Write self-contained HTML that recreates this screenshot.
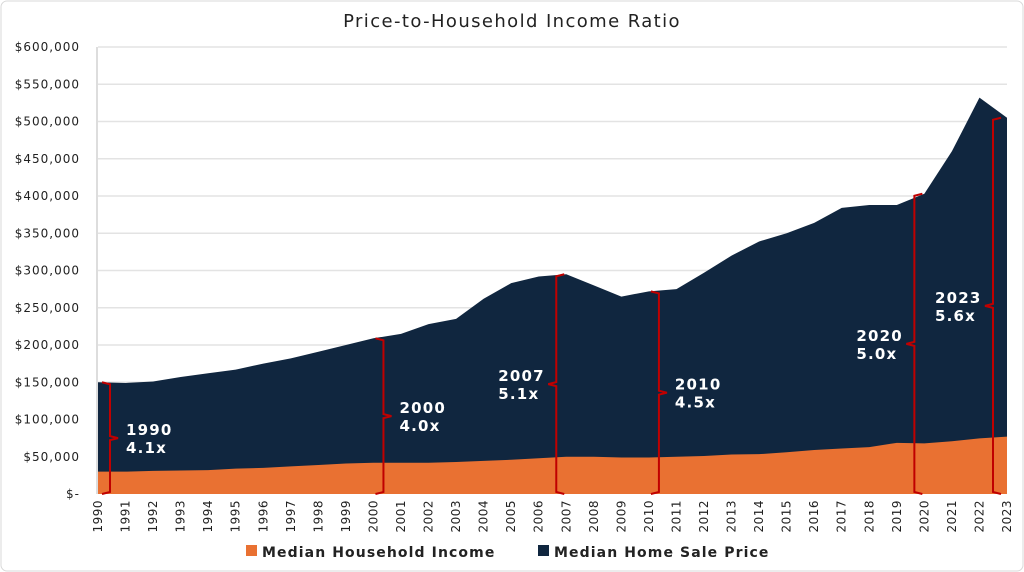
<!DOCTYPE html>
<html><head><meta charset="utf-8"><style>
body{margin:0;background:#fff;}
svg{display:block;font-family:"DejaVu Sans","Liberation Sans",sans-serif;}
</style></head><body>
<svg id="chart" width="1024" height="572" viewBox="0 0 1024 572">
<rect x="1" y="1" width="1022" height="570" rx="6" fill="#fff" stroke="#d9d9d9"/>
<text x="512" y="27" text-anchor="middle" font-size="18" letter-spacing="1.4" fill="#222">Price-to-Household Income Ratio</text>
<g id="grid"></g><g id="areas"></g><g id="yaxis"></g><g id="xaxis"></g><g id="brackets"></g>
<g>
<rect x="246" y="545" width="11" height="11" fill="#e97132"/>
<text x="262" y="557" font-size="14" font-weight="bold" letter-spacing="1.1" fill="#222">Median Household Income</text>
<rect x="538" y="545" width="11" height="11" fill="#10263f"/>
<text x="554" y="557" font-size="14" font-weight="bold" letter-spacing="1.1" fill="#222">Median Home Sale Price</text>
</g>
</svg>
<script>
const years=[1990,1991,1992,1993,1994,1995,1996,1997,1998,1999,2000,2001,2002,2003,2004,2005,2006,2007,2008,2009,2010,2011,2012,2013,2014,2015,2016,2017,2018,2019,2020,2021,2022,2023];
const homePrice=[150000,149000,151000,157000,162000,167000,175000,182000,191000,200000,209000,215000,228000,235000,262000,283000,292000,295000,280000,265000,272000,275000,297000,320000,339000,350000,364000,384000,388000,388000,403000,460000,532000,505000];
const income=[30000,30000,31000,31500,32000,34000,35000,37000,39000,41000,42000,42000,42000,43000,44500,46000,48000,50000,50000,49000,49000,50000,51000,53000,53500,56000,59000,61000,63000,68700,68000,70800,74600,77000];
const yTicks=[0,50000,100000,150000,200000,250000,300000,350000,400000,450000,500000,550000,600000];
const yTickLabels=["$-","$50,000","$100,000","$150,000","$200,000","$250,000","$300,000","$350,000","$400,000","$450,000","$500,000","$550,000","$600,000"];
const bracketYears=[1990,2000,2007,2010,2020,2023];
const bracketRatios=["4.1x","4.0x","5.1x","4.5x","5.0x","5.6x"];
const bracketSides=["right","right","left","right","left","left"];

const NS="http://www.w3.org/2000/svg";
const X0=98,X1=1007,Y0=494,Y1=47;
const x=i=>X0+(X1-X0)*i/(years.length-1);
const y=v=>Y0-(Y0-Y1)*v/600000;
function mk(tag,attrs,parent){const e=document.createElementNS(NS,tag);for(const k in attrs)e.setAttribute(k,attrs[k]);parent.appendChild(e);return e;}
const grid=document.getElementById('grid'),areas=document.getElementById('areas'),ya=document.getElementById('yaxis'),xa=document.getElementById('xaxis'),br=document.getElementById('brackets');
yTicks.forEach((t,i)=>{
  if(t>0){const l=mk('line',{x1:X0,x2:X1,y1:y(t),y2:y(t),stroke:'#e3e3e3','stroke-width':1.5},grid);
  
  }
  const tx=mk('text',{x:80,y:y(t)+4,'text-anchor':'end','font-size':12,'letter-spacing':1,fill:'#222'},ya);
  tx.textContent=yTickLabels[i];
  
  
});
const ax=mk('line',{x1:X0-1,x2:X0-1,y1:Y1,y2:Y0,stroke:'#bbb'},ya);


function areaPath(vals){let d='M'+x(0)+','+Y0;vals.forEach((v,i)=>d+=' L'+x(i)+','+y(v));d+=' L'+x(vals.length-1)+','+Y0+' Z';return d;}
const pa=mk('path',{d:areaPath(homePrice),fill:'#10263f'},areas);


const ia=mk('path',{d:areaPath(income),fill:'#e97132'},areas);


years.forEach((yr,i)=>{
  const t=mk('text',{transform:`translate(${x(i)+4},${Y0+6}) rotate(-90)`,'text-anchor':'end','font-size':12,'letter-spacing':0.5,fill:'#222'},xa);
  t.textContent=yr;
  
  
});
bracketYears.forEach((yr,k)=>{
  const i=years.indexOf(yr);const top=y(homePrice[i]),bot=Y0,mid=(top+bot)/2;
  const right=bracketSides[k]==='right';
  let bx=x(i)+(right?10:-10);
  if(i===years.length-1)bx=x(i)-14;
  if(i===0)bx=x(i)+12;
  const s=right?1:-1;const w=8;
  const d=`M${bx-s*w},${top} L${bx},${top+2} L${bx},${mid-2} L${bx+s*w},${mid} L${bx},${mid+2} L${bx},${bot-2} L${bx-s*w},${bot}`;
  const p=mk('path',{d,fill:'none',stroke:'#c00000','stroke-width':2},br);
  
  
  const tip=bx+s*w;
  const tx=right?tip+8:tip-50;
  const t=mk('text',{x:tx,y:mid-3,'text-anchor':'start','font-size':15,'font-weight':'bold','letter-spacing':1.2,fill:'#fff'},br);
  const a=mk('tspan',{x:tx,dy:0},t);a.textContent=yr;
  const b=mk('tspan',{x:tx,dy:18},t);b.textContent=bracketRatios[k];
  
  
});
</script>
</body></html>
